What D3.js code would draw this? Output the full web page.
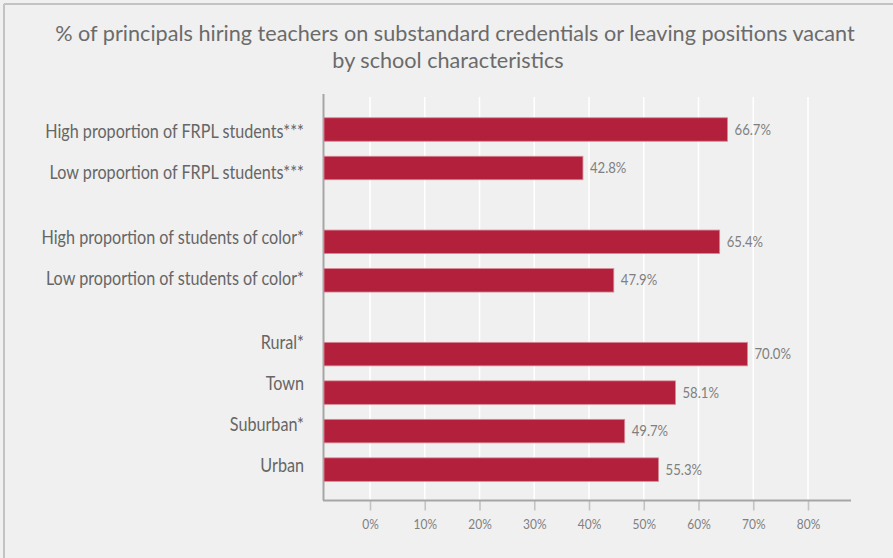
<!DOCTYPE html>
<html>
<head>
<meta charset="utf-8">
<script src="https://cdn.jsdelivr.net/npm/d3@7"></script>
<style>
  html, body { margin: 0; padding: 0; background: #f0f0f0; }
  svg { display: block; }
  text { font-family: Lato, "Open Sans", sans-serif; }
</style>
</head>
<body>
<svg id="chart" width="893" height="558"></svg>
<script>
// ---- data ----
const titleLines = [
  "% of principals hiring teachers on substandard credentials or leaving positions vacant",
  "by school characteristics"
];
const categories = [
  "High proportion of FRPL students***",
  "Low proportion of FRPL students***",
  "High proportion of students of color*",
  "Low proportion of students of color*",
  "Rural*",
  "Town",
  "Suburban*",
  "Urban"
];
const values = [66.7, 42.8, 65.4, 47.9, 70.0, 58.1, 49.7, 55.3];
const groupIndex = [0, 0, 1, 1, 2, 2, 2, 2];
const tickValues = [0, 10, 20, 30, 40, 50, 60, 70, 80];
const tickLabels = ["0%", "10%", "20%", "30%", "40%", "50%", "60%", "70%", "80%"];

// ---- layout ----
const W = 893, H = 558;
const svg = d3.select("#chart");
const barColor = "#b2203c";
const condense = 1.13;      // taller/narrower glyphs (Calibri-like)

function fitSize(str, target) {
  const t = svg.append("text").attr("font-size", 20).text(str);
  const w = t.node().getComputedTextLength();
  t.remove();
  return 20 * target / w;
}
function squeeze(factor) {
  return sel => sel.each(function () {
    const w = this.getComputedTextLength();
    d3.select(this).attr("textLength", w / factor).attr("lengthAdjust", "spacingAndGlyphs");
  });
}

// background + border (top & left)
svg.append("rect").attr("x", 0).attr("y", 0).attr("width", W).attr("height", H).attr("fill", "#f0f0f0");
svg.append("line").attr("x1", 4).attr("x2", W).attr("y1", 4).attr("y2", 4)
  .attr("stroke", "#c3c3c3").attr("stroke-width", 2);
svg.append("line").attr("x1", 4).attr("x2", 4).attr("y1", 4).attr("y2", H)
  .attr("stroke", "#c3c3c3").attr("stroke-width", 2);

// scales
const x = d3.scaleLinear().domain([0, 100]).range([324, 929]);       // bars
const xt = d3.scaleLinear().domain([0, 80]).range([370, 808]);       // tick axis (as drawn)
const barStep = 38.5, barGroupGap = 35.3, barY0 = 129.5;
const y = d3.scaleBand().domain(categories)
  .range([barY0 - barStep / 2, barY0 - barStep / 2 + categories.length * barStep])
  .paddingInner(0.39).paddingOuter(0.195);
const labStep = 41, labGroupGap = 23.5, labY0 = 132;
const yl = d3.scaleBand().domain(categories)
  .range([labY0 - labStep / 2, labY0 - labStep / 2 + categories.length * labStep]);

const plotTop = 95, plotBottom = 500.5, axisLeft = 324, axisRight = 851;

// gridlines
svg.append("g").selectAll("line").data(tickValues).join("line")
  .attr("x1", d => xt(d)).attr("x2", d => xt(d))
  .attr("y1", plotTop + 2).attr("y2", plotBottom)
  .attr("stroke", "#ffffff").attr("stroke-width", 1.6);

// bottom axis
const axisG = svg.append("g").attr("transform", `translate(0,${plotBottom})`)
  .call(d3.axisBottom(xt).tickValues(tickValues).tickFormat((d, i) => tickLabels[i]).tickSize(10).tickPadding(9));
axisG.select(".domain").remove();
axisG.selectAll(".tick line").attr("stroke", "#c4c4c4").attr("stroke-width", 1.6);
const tickFs = fitSize("10%", 23.5) * condense;
axisG.selectAll(".tick text")
  .attr("fill", "#808080").attr("font-size", tickFs)
  .attr("font-family", "Lato, 'Open Sans', sans-serif")
  .call(squeeze(condense));

// axis lines
svg.append("line").attr("x1", axisLeft - 1).attr("x2", axisRight)
  .attr("y1", plotBottom).attr("y2", plotBottom)
  .attr("stroke", "#a6a6a6").attr("stroke-width", 2);
svg.append("line").attr("x1", axisLeft - 0.5).attr("x2", axisLeft - 0.5)
  .attr("y1", plotTop - 1).attr("y2", plotBottom)
  .attr("stroke", "#a6a6a6").attr("stroke-width", 2);

// bars
const data = categories.map((c, i) => ({ c, v: values[i], g: groupIndex[i] }));
svg.append("g").selectAll("rect").data(data).join("rect")
  .attr("x", x(0))
  .attr("y", d => y(d.c) + d.g * barGroupGap)
  .attr("width", d => x(d.v) - x(0))
  .attr("height", y.bandwidth())
  .attr("fill", barColor)
  .attr("stroke", "#d78a98").attr("stroke-width", 0.8);

// value labels
const valFs = fitSize("66.7%", 36.5) * condense;
svg.append("g").selectAll("text").data(data).join("text")
  .attr("x", d => x(d.v) + 7)
  .attr("y", d => y(d.c) + d.g * barGroupGap + y.bandwidth() / 2)
  .attr("dy", "0.35em")
  .attr("font-size", valFs)
  .attr("fill", "#7f7f7f")
  .text(d => d.v.toFixed(1) + "%")
  .call(squeeze(condense));

// category labels
const catFs = fitSize(categories[0], 259) * condense;
svg.append("g").selectAll("text").data(data).join("text")
  .attr("x", 304)
  .attr("y", d => yl(d.c) + yl.bandwidth() / 2 + d.g * labGroupGap)
  .attr("dy", "0.35em")
  .attr("text-anchor", "end")
  .attr("font-size", catFs)
  .attr("fill", "#666666")
  .text(d => d.c)
  .call(squeeze(condense));

// title
const titleFs = fitSize(titleLines[0], 800);
svg.append("g").selectAll("text").data(titleLines).join("text")
  .attr("x", (d, i) => i === 0 ? 455 : 448)
  .attr("y", (d, i) => 33 + i * 27)
  .attr("dy", "0.35em")
  .attr("text-anchor", "middle")
  .attr("font-size", titleFs)
  .attr("fill", "#6b6b6b")
  .text(d => d);
</script>
</body>
</html>
